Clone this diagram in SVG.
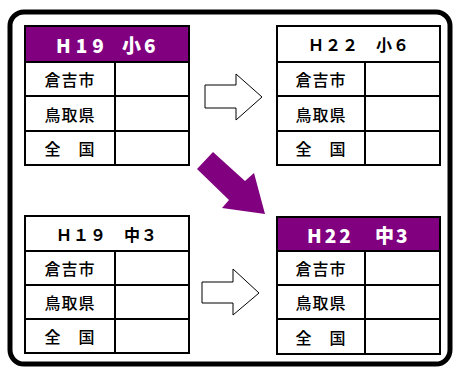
<svg xmlns="http://www.w3.org/2000/svg" width="456" height="368" viewBox="0 0 456 368">
<style>
.frame{fill:#fff;stroke:#000;stroke-width:5}
.cell{fill:#fff;stroke:#000;stroke-width:2}
.hp{fill:#800080;stroke:#000;stroke-width:2}
.ht{font-family:"Noto Sans CJK JP","Noto Sans",sans-serif;font-weight:900;font-size:19px;fill:#fff;dominant-baseline:central}
.hw{font-family:"Noto Sans CJK JP","Noto Sans",sans-serif;font-weight:700;font-size:16px;fill:#000;text-anchor:middle;dominant-baseline:central;letter-spacing:1px}
.rl{font-family:"Noto Sans CJK JP","Noto Sans",sans-serif;font-weight:500;font-size:16px;fill:#000;text-anchor:middle;dominant-baseline:central;letter-spacing:1px}
.oa{fill:#fff;stroke:#000;stroke-width:1}
.pa{fill:#800080;stroke:none}
</style>
<rect class="frame" x="10" y="12" width="440" height="352" rx="14"/>

<g id="t1">
<rect class="hp" x="25" y="26" width="164" height="36"/>
<text class="ht" y="44"><tspan x="56" letter-spacing="5">H19</tspan><tspan x="122" letter-spacing="3">小6</tspan></text>
<rect class="cell" x="25" y="62" width="90" height="34"/>
<rect class="cell" x="115" y="62" width="74" height="34"/>
<rect class="cell" x="25" y="96" width="90" height="35"/>
<rect class="cell" x="115" y="96" width="74" height="35"/>
<rect class="cell" x="25" y="131" width="90" height="34"/>
<rect class="cell" x="115" y="131" width="74" height="34"/>
<text class="rl" x="70" y="79">倉吉市</text>
<text class="rl" x="70" y="113.5">鳥取県</text>
<text class="rl" x="70" y="148">全　国</text>
</g>

<g id="t2">
<rect class="cell" x="277" y="26" width="163" height="36"/>
<text class="hw" x="359" y="44">Ｈ２２　小６</text>
<rect class="cell" x="277" y="62" width="88" height="34"/>
<rect class="cell" x="365" y="62" width="75" height="34"/>
<rect class="cell" x="277" y="96" width="88" height="35"/>
<rect class="cell" x="365" y="96" width="75" height="35"/>
<rect class="cell" x="277" y="131" width="88" height="34"/>
<rect class="cell" x="365" y="131" width="75" height="34"/>
<text class="rl" x="321" y="79">倉吉市</text>
<text class="rl" x="321" y="113.5">鳥取県</text>
<text class="rl" x="321" y="148">全　国</text>
</g>

<g id="t3">
<rect class="cell" x="25" y="216" width="164" height="35"/>
<text class="hw" x="107" y="233.5">Ｈ１９　中３</text>
<rect class="cell" x="25" y="251" width="90" height="34"/>
<rect class="cell" x="115" y="251" width="74" height="34"/>
<rect class="cell" x="25" y="285" width="90" height="34"/>
<rect class="cell" x="115" y="285" width="74" height="34"/>
<rect class="cell" x="25" y="319" width="90" height="34"/>
<rect class="cell" x="115" y="319" width="74" height="34"/>
<text class="rl" x="70" y="268">倉吉市</text>
<text class="rl" x="70" y="302">鳥取県</text>
<text class="rl" x="70" y="336">全　国</text>
</g>

<g id="t4">
<rect class="hp" x="277" y="217" width="163" height="34"/>
<text class="ht" y="234"><tspan x="307" letter-spacing="3">H22</tspan><tspan x="375" letter-spacing="2">中3</tspan></text>
<rect class="cell" x="277" y="251" width="88" height="34"/>
<rect class="cell" x="365" y="251" width="75" height="34"/>
<rect class="cell" x="277" y="285" width="88" height="34"/>
<rect class="cell" x="365" y="285" width="75" height="34"/>
<rect class="cell" x="277" y="319" width="88" height="35"/>
<rect class="cell" x="365" y="319" width="75" height="35"/>
<text class="rl" x="321" y="268">倉吉市</text>
<text class="rl" x="321" y="302">鳥取県</text>
<text class="rl" x="321" y="336.5">全　国</text>
</g>

<g id="connectors">
<polygon class="oa" points="205,85 236,85 236,74 262,97 236,120 236,108 205,108"/>
<polygon class="oa" points="202,282 233,282 233,269 259,293 233,315 233,303 202,303"/>
<polygon class="pa" points="197,169 213,152 245,181 254,173 265,214 222,208 229,200"/>
</g>
</svg>
